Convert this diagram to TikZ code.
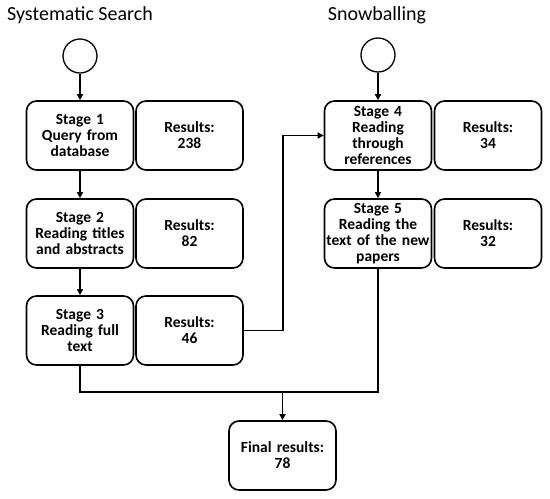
\documentclass[tikz,border=0pt]{standalone}
\usepackage{fontspec}
\setmainfont{Carlito}
\usetikzlibrary{arrows.meta}
\begin{document}
\begin{tikzpicture}[x=1pt,y=-1pt,
  box/.style={draw,line width=1.6pt,rounded corners=10pt,minimum width=107pt,minimum height=69pt,
    align=center,font=\fontsize{15.5}{15.8}\selectfont\bfseries,inner sep=1pt,text width=104pt},
  startc/.style={draw,line width=1.3pt,circle,minimum size=34pt,inner sep=0pt},
  conn/.style={line width=1.5pt},
  arr/.style={conn,-{Triangle[length=6pt,width=6pt]}},
  ttl/.style={font=\fontsize{20}{24}\selectfont}]
\useasboundingbox (0,0) rectangle (550,499);
\node[ttl] (t1) at (80,15) {Systematic Search};
\node[ttl] (t2) at (377,15) {Snowballing};
\node[startc] (c1) at (80,56) {};
\node[startc] (c2) at (378,55) {};
\node[box] (s1) at (80,135.5) {Stage 1\\Query from\\database};
\node[box] (r1) at (189.5,135.5) {Results:\\238};
\node[box] (s2) at (80,233.5) {Stage 2\\Reading titles\\and abstracts};
\node[box] (r2) at (189.5,233.5) {Results:\\82};
\node[box] (s3) at (80,330.5) {Stage 3\\Reading full\\text};
\node[box] (r3) at (189.5,330.5) {Results:\\46};
\node[box] (s4) at (378,135.5) {Stage 4\\Reading\\through\\references};
\node[box] (r4) at (488,135.5) {Results:\\34};
\node[box] (s5) at (378,233.5) {Stage 5\\Reading the\\text of the new\\papers};
\node[box] (r5) at (488,233.5) {Results:\\32};
\node[box] (f) at (282.5,455.5) {Final results:\\78};
\coordinate (j) at (282.5,392);
\draw[arr] (c1) -- (s1);
\draw[arr] (s1) -- (s2);
\draw[arr] (s2) -- (s3);
\draw[arr] (c2) -- (s4);
\draw[arr] (s4) -- (s5);
\draw[arr] (r3.east) -- (283,330.5) |- (s4.west);
\draw[conn] (s3.south) |- (j);
\draw[conn] (s5.south) |- (j);
\draw[arr] (j) -- (f.north);
\end{tikzpicture}
\end{document}
